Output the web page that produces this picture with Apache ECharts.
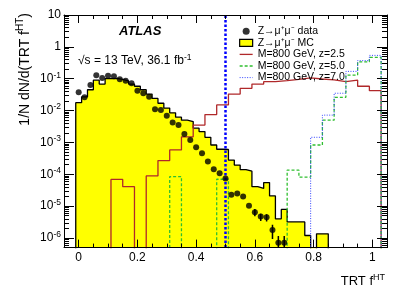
<!DOCTYPE html>
<html><head><meta charset="utf-8">
<script src="https://cdn.jsdelivr.net/npm/echarts@6/dist/echarts.min.js"></script>
<style>html,body{margin:0;padding:0;background:#fff}#c{width:407px;height:294px}</style>
</head><body><div id="c"></div>
<script>
const FONT = '"Liberation Sans", Arial, Helvetica, sans-serif';

// ---- MC histogram Z->mumu (bin width 0.02, first bin starts at -0.01)
const mcBinStart = -0.01;
const mcBinWidth = 0.02;
const mcValues = [
  0.0177, 0.027, 0.045, 0.090, 0.068, 0.100, 0.102, 0.095, 0.085, 0.068,
  0.058, 0.045, 0.033, 0.024, 0.017, 0.012, 0.0085, 0.0062, 0.0050, 0.0045,
  0.0028, 0.0022, 0.00145, 0.00083, 0.00061, 0.00060, 0.00028, 0.000195, 0.00014, 0.000125,
  0.000041, 0.000036, 0.000055, 0.000021, 0.0000040, 0.0000079, 0.0000032, 0.0000032, 0.0000032, 0.0000012,
  0, 0.00000135, 0.00000135
];

// ---- signal histograms (bin width 0.04, first bin starts at -0.01)
const sigBinStart = -0.01;
const sigBinWidth = 0.04;
const sigZ25 = [
  0, 0, 0, 6.9e-5, 4.1e-5, 0, 8.9e-5, 2.7e-4, 5.8e-4, 1.5e-3,
  3.5e-3, 7.5e-3, 0.015, 0.033, 0.050, 0.068, 0.081, 0.087, 0.096, 0.107,
  0.098, 0.092, 0.081, 0.091, 0.058, 0.042
];
const sigZ50 = [
  0, 0, 0, 0, 0, 0, 0, 0, 8.5e-5, 0,
  0, 0, 7.0e-5, 0, 0, 0, 0, 0, 1.36e-4, 8.2e-5,
  8.3e-4, 5.0e-3, 0.026, 0.13, 0.34, 0.47
];
const sigZ70 = [
  0, 0, 0, 0, 0, 0, 0, 0, 0, 0,
  0, 0, 0, 0, 0, 0, 0, 0, 0, 0,
  1.45e-3, 7.2e-3, 0.035, 0.17, 0.37, 0.54
];

// ---- data points
const dataX = [0, 0.02, 0.04, 0.06, 0.08, 0.10, 0.12, 0.14, 0.16, 0.18,
  0.20, 0.22, 0.24, 0.26, 0.28, 0.30, 0.32, 0.34, 0.36, 0.38,
  0.40, 0.42, 0.44, 0.46, 0.48, 0.50, 0.52, 0.54, 0.56, 0.58,
  0.60, 0.62, 0.64, 0.66, 0.68, 0.70];
const dataY = [0.0374, 0.026, 0.0635, 0.128, 0.105, 0.124, 0.119, 0.096, 0.0867, 0.0716,
  0.042, 0.0348, 0.0273, 0.011, 0.0105, 0.0069, 0.0042, 0.0035, 0.00184, 0.0012,
  7.0e-4, 4.6e-4, 2.5e-4, 1.45e-4, 1.07e-4, 7.4e-5, 2.3e-5, 2.5e-5, 2.0e-5, 1.03e-5,
  6.4e-6, 4.7e-6, 4.5e-6, 1.8e-6, 7.1e-7, 7.1e-7];
const errX  = [0.60, 0.62, 0.64, 0.66, 0.68, 0.70];
const errLo = [4.8e-6, 3.4e-6, 3.3e-6, 9.3e-7, 2e-7, 2e-7];
const errHi = [8.2e-6, 5.8e-6, 5.6e-6, 2.6e-6, 1.15e-6, 1.15e-6];

const cutValue = 0.5;

// ---- axes
const xMin = -0.05, xMax = 1.05;
const yMin = 5e-7, yMax = 10;
const xTickValues = [0, 0.2, 0.4, 0.6, 0.8, 1.0];
const xMinorTickValues = [-0.05, 0.05, 0.1, 0.15, 0.25, 0.3, 0.35, 0.45, 0.5, 0.55,
  0.65, 0.7, 0.75, 0.85, 0.9, 0.95, 1.05];
const yTickValues = [1e-6, 1e-5, 1e-4, 1e-3, 1e-2, 1e-1, 1, 10];
const yMinorTickValues = [];
for (let n = -7; n <= 0; n++) {
  for (let m = 2; m <= 9; m++) {
    const v = m * Math.pow(10, n);
    if (v >= yMin && v <= yMax) yMinorTickValues.push(v);
  }
}

const TINY = 1e-12;
function histPoints(values, start, width) {
  const e = i => +(start + i * width).toFixed(4);
  const pts = [[e(0), TINY]];
  values.forEach((v, i) => pts.push([e(i), v > 0 ? v : TINY]));
  const n = values.length;
  const last = values[n - 1] > 0 ? values[n - 1] : TINY;
  pts.push([e(n), last]);
  pts.push([e(n), TINY]);
  return pts;
}

const supStyle = (fs, pad, lh) => ({fontSize: fs, fontFamily: FONT, color: '#000', padding: [0, 0, pad, 0], lineHeight: lh});

const legendLabels = {
  data: 'Z→μ⁺μ⁻ data',
  mc: 'Z→μ⁺μ⁻ MC',
  s25: 'M=800 GeV, z=2.5',
  s50: 'M=800 GeV, z=5.0',
  s70: 'M=800 GeV, z=7.0'
};

function xAxisDef(pos, major, withLabels) {
  return {
    type: 'value', position: pos, min: xMin, max: xMax, z: 10,
    axisLine: {show: major, onZero: false, lineStyle: {color: '#000', width: 1}},
    axisTick: {show: true, inside: true, length: major ? 8 : 4,
      customValues: major ? xTickValues : xMinorTickValues,
      lineStyle: {color: '#000', width: 1}},
    axisLabel: withLabels ? {show: true, customValues: xTickValues, margin: 4,
      fontSize: 12, fontFamily: FONT, color: '#000',
      formatter: v => String(+v.toFixed(2))} : {show: false},
    splitLine: {show: false}
  };
}
function yAxisDef(pos, major, withLabels) {
  return {
    type: 'log', logBase: 10, position: pos, min: yMin, max: yMax, z: 10,
    axisLine: {show: major, onZero: false, lineStyle: {color: '#000', width: 1}},
    axisTick: {show: true, inside: true, length: major ? 10 : 5,
      customValues: major ? yTickValues : yMinorTickValues,
      lineStyle: {color: '#000', width: 1}},
    axisLabel: withLabels ? {show: true, customValues: yTickValues, margin: 3,
      fontSize: 12, fontFamily: FONT, color: '#000', lineHeight: 12,
      rich: {sup: supStyle(8.5, 7, 12)},
      formatter: v => {
        const e = Math.round(Math.log10(v));
        if (e === 1) return '10';
        if (e === 0) return '1';
        return '10{sup|' + e + '}';
      }} : {show: false},
    splitLine: {show: false},
    minorTick: {show: false}
  };
}

const xAxes = [xAxisDef('bottom', true, true), xAxisDef('bottom', false, false),
  xAxisDef('top', true, false), xAxisDef('top', false, false)];
const yAxes = [yAxisDef('left', true, true), yAxisDef('left', false, false),
  yAxisDef('right', true, false), yAxisDef('right', false, false)];

const lineLegend = (name, color, type, width) => ({name: name, itemStyle: {opacity: 0},
  lineStyle: {color: color, type: type, width: width}});

const chart = echarts.init(document.getElementById('c'), null, {renderer: 'canvas'});
chart.setOption({
  animation: false,
  backgroundColor: '#fff',
  grid: {left: 64, right: 20, top: 15, bottom: 46.4, outerBoundsMode: 'none', containLabel: false},
  xAxis: xAxes,
  yAxis: yAxes,
  legend: {
    orient: 'vertical', left: 234, top: 20.7, itemWidth: 13, itemHeight: 7, itemGap: 0.6,
    textStyle: {fontFamily: FONT, fontSize: 10.5, color: '#000', lineHeight: 10},
    formatter: n => legendLabels[n],
    data: [
      {name: 'data', icon: 'circle', itemStyle: {color: '#000'}},
      {name: 'mc', icon: 'rect', itemStyle: {color: '#ffff00', borderColor: '#000', borderWidth: 1.2}},
      lineLegend('s25', '#b0282a', 'solid', 1.3),
      lineLegend('s50', '#2fbf2f', [3, 2], 1.3),
      lineLegend('s70', '#3344ff', [1, 1.5], 1)
    ]
  },
  graphic: [
    {type: 'text', x: 119, y: 31, z: 20, style: {text: 'ATLAS', font: 'italic bold 13px ' + FONT,
      fill: '#000', align: 'left', verticalAlign: 'middle'}},
    {type: 'text', x: 78, y: 61, z: 20, style: {text: '√s = 13 TeV, 36.1 fb{sup|-1}',
      font: '12px ' + FONT, fill: '#000', align: 'left', verticalAlign: 'middle',
      rich: {sup: {font: '8.5px ' + FONT, fill: '#000', padding: [0, 0, 7, 0]}}}},
    {type: 'text', x: 24.7, y: 13, rotation: Math.PI / 2, z: 20, style: {
      text: '1/N dN/d(TRT f{sup|HT})', font: '14px ' + FONT, fill: '#000',
      align: 'right', verticalAlign: 'middle',
      rich: {sup: {font: '10px ' + FONT, fill: '#000', padding: [0, 0, 8, 0]}}}},
    {type: 'text', x: 385, y: 281.5, z: 20, style: {
      text: 'TRT f{sup|HT}', font: '13px ' + FONT, fill: '#000',
      align: 'right', verticalAlign: 'middle',
      rich: {sup: {font: '9px ' + FONT, fill: '#000', padding: [0, 0, 8, 0]}}}}
  ],
  series: [
    {name: 'mc', type: 'line', step: 'end', z: 2, symbol: 'none', showSymbol: false,
      data: histPoints(mcValues, mcBinStart, mcBinWidth),
      lineStyle: {color: '#000', width: 1.3},
      itemStyle: {color: '#ffff00'},
      areaStyle: {color: '#ffff00', opacity: 1, origin: 'start'}},
    {name: 's25', type: 'line', step: 'end', z: 3, symbol: 'none', showSymbol: false,
      data: histPoints(sigZ25, sigBinStart, sigBinWidth),
      itemStyle: {color: '#b0282a'},
      lineStyle: {color: '#b0282a', width: 1.3}},
    {name: 's50', type: 'line', step: 'end', z: 3, symbol: 'none', showSymbol: false,
      data: histPoints(sigZ50, sigBinStart, sigBinWidth),
      itemStyle: {color: '#2fbf2f'},
      lineStyle: {color: '#2fbf2f', width: 1.3, type: [3, 2]}},
    {name: 's70', type: 'line', step: 'end', z: 3, symbol: 'none', showSymbol: false,
      data: histPoints(sigZ70, sigBinStart, sigBinWidth),
      itemStyle: {color: '#3344ff'},
      lineStyle: {color: '#3344ff', width: 1, type: [1, 1.5]},
      markLine: {silent: true, symbol: ['none', 'none'], label: {show: false},
        lineStyle: {color: '#0000ff', width: 2.5, type: [2.5, 2]},
        data: [{xAxis: cutValue}]}},
    {name: 'err', type: 'custom', z: 5, clip: true,
      data: errX.map((x, i) => [x, errLo[i], errHi[i]]),
      encode: {x: 0, y: [1, 2]},
      renderItem: (params, api) => {
        const p1 = api.coord([api.value(0), api.value(1)]);
        const p2 = api.coord([api.value(0), api.value(2)]);
        return {type: 'line', shape: {x1: p1[0], y1: p1[1], x2: p2[0], y2: p2[1]},
          style: {stroke: '#000', lineWidth: 1.5}};
      }},
    {name: 'data', type: 'scatter', z: 6, symbol: 'circle', symbolSize: 6,
      data: dataX.map((x, i) => [x, dataY[i]]),
      itemStyle: {color: '#000'}}
  ]
});
</script>
</body></html>
